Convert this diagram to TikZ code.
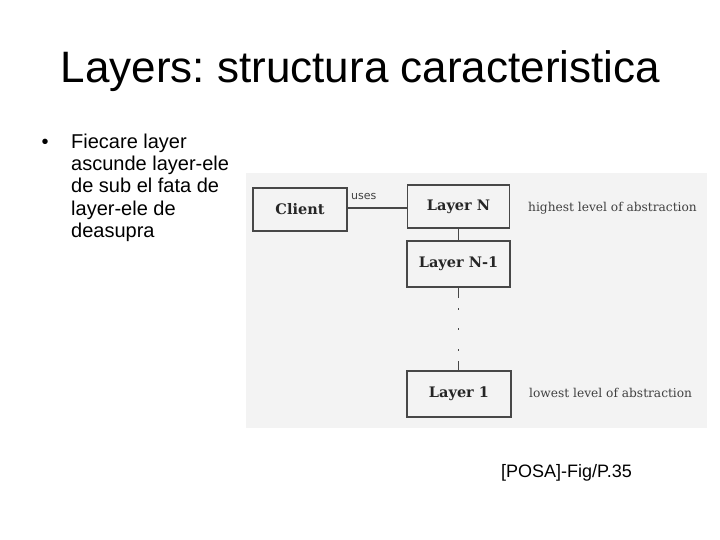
\documentclass[tikz,border=0pt]{standalone}
\usepackage{fontspec}
\setmainfont{Liberation Sans}
\newfontfamily\diagfont{DejaVu Serif}
\newfontfamily\usesfont{DejaVu Sans}
\definecolor{imgbg}{HTML}{F3F3F3}
\definecolor{boxline}{HTML}{474747}
\definecolor{boxtext}{HTML}{262626}
\definecolor{sidetext}{HTML}{404040}
\frenchspacing
\begin{document}
\begin{tikzpicture}[x=1pt,y=-1pt,
  layerbox/.style={draw=boxline,line width=1.6pt,fill=imgbg,inner sep=0pt,
    font=\diagfont\bfseries\fontsize{14.5}{16}\selectfont,text=boxtext},
  sidelabel/.style={anchor=west,inner sep=0pt,font=\diagfont\fontsize{12.2}{14}\selectfont,text=sidetext},
  bullettext/.style={anchor=base west,inner sep=0pt,font=\fontsize{20}{22}\selectfont},
  conn/.style={draw=boxline,line width=1.2pt}]
\useasboundingbox (0,0) rectangle (720,540);
\fill[white] (0,0) rectangle (720,540);
% title
\node[anchor=base,inner sep=0pt,font=\fontsize{44}{50}\selectfont] (title) at (360.5,83) {Layers: structura caracteristica};
% bullet
\node[anchor=base,inner sep=0pt,font=\fontsize{20}{22}\selectfont] (bul) at (45,149) {\textbullet};
\node[bullettext] (b1) at (71,149) {Fiecare layer};
\node[bullettext] (b2) at (71,171) {ascunde layer-ele};
\node[bullettext] (b3) at (71,193) {de sub el fata de};
\node[bullettext] (b4) at (71,215) {layer-ele de};
\node[bullettext] (b5) at (71,237) {deasupra};
% image area
\fill[imgbg] (246,173) rectangle (707,428);
% boxes
\node[layerbox,minimum width=94pt,minimum height=43pt] (client) at (300,209.5) {Client};
\node[layerbox,minimum width=102pt,minimum height=43pt] (ln) at (458.5,206.5) {Layer N};
\node[layerbox,minimum width=103pt,minimum height=46pt] (ln1) at (458.5,264) {Layer N-1};
\node[layerbox,minimum width=104pt,minimum height=46pt] (l1) at (459,394) {Layer 1};
% connectors
\draw[conn,line width=2pt] (client.east |- 0,208) coordinate (ce) -- (ce -| ln.west);
\node[anchor=south west,inner sep=0pt,font=\usesfont\fontsize{11}{12}\selectfont,text=sidetext] (uses) at (351,200) {uses};
\draw[conn] (ln.south) -- (ln1.north);
\draw[conn,dash pattern=on 10pt off 10.5pt on 1.4pt off 18.6pt on 1.4pt off 19.6pt on 1.4pt off 10.5pt on 11pt]
  (ln1.south) -- (ln1.south |- l1.north);
% side labels
\node[sidelabel] (hi) at (528,208) {highest level of abstraction};
\node[sidelabel] (lo) at (529,393) {lowest level of abstraction};
% caption
\node[anchor=base west,inner sep=0pt,font=\fontsize{18}{20}\selectfont] (cap) at (501,477) {[POSA]-Fig/P.35};
\end{tikzpicture}
\end{document}
